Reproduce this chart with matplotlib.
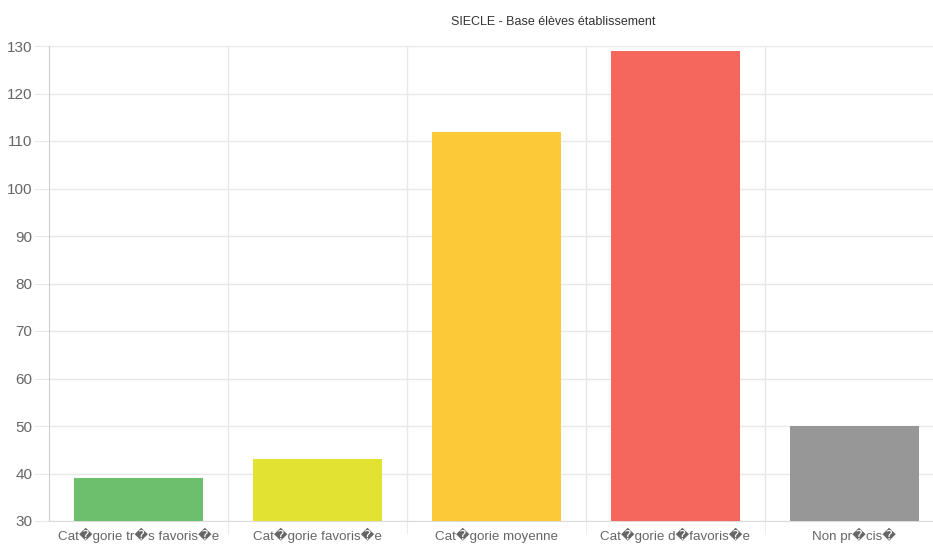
import matplotlib.pyplot as plt

categories = ['Cat\ufffdgorie tr\ufffds favoris\ufffde', 'Cat\ufffdgorie favoris\ufffde',
              'Cat\ufffdgorie moyenne', 'Cat\ufffdgorie d\ufffdfavoris\ufffde', 'Non pr\ufffdcis\ufffd']
values = [39, 43, 112, 129, 50]
colors = ['#6dbf6e', '#e2e233', '#fcc939', '#f5665d', '#979797']
yticks = [30, 40, 50, 60, 70, 80, 90, 100, 110, 120, 130]

plt.rcParams['font.family'] = ['Liberation Sans', 'DejaVu Sans']

W, H = 933, 546
fig = plt.figure(figsize=(W / 100, H / 100), dpi=100)
ax = fig.add_axes([49 / W, (H - 521) / H, (944 - 49) / W, (521 - 46) / H])

x = list(range(len(categories)))
ax.bar(x, [v - 30 for v in values], bottom=30, width=0.72, color=colors, zorder=3)

ax.set_xlim(-0.5, len(categories) - 0.5)
ax.set_ylim(30, 130)
ax.set_yticks(yticks)
ax.set_xticks(x)
ax.set_xticklabels(categories)
ax.set_xticks([i + 0.5 for i in x], minor=True)

grid_c = '#e8e8e8'
for y in yticks:
    ax.axhline(y, color=grid_c, lw=1, zorder=1)
for b in [i + 0.5 for i in x]:
    ax.axvline(b, color=grid_c, lw=1, zorder=1)

for s in ['top', 'right']:
    ax.spines[s].set_visible(False)
ax.spines['left'].set_color('#cfcfcf')
ax.spines['bottom'].set_color('#dcdcdc')
ax.tick_params(axis='y', length=11, color=grid_c, labelsize=11, labelcolor='#666666', pad=1)
ax.tick_params(axis='x', which='major', length=0, labelsize=9.6, labelcolor='#666666', pad=5)
ax.tick_params(axis='x', which='minor', length=9, color=grid_c)

fig.text(553 / W, 1 - 22 / H, 'SIECLE - Base \u00e9l\u00e8ves \u00e9tablissement',
         ha='center', va='center', fontsize=9, color='#333333')

fig.savefig('out.png', dpi=100)
